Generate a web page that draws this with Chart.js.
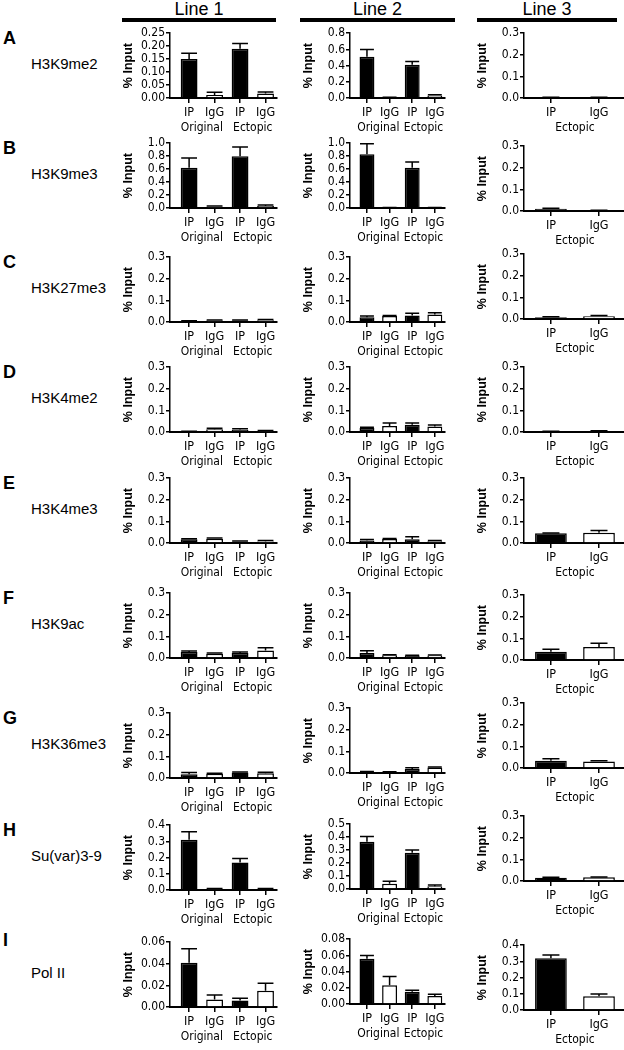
<!DOCTYPE html>
<html>
<head>
<meta charset="utf-8">
<script src="https://cdn.jsdelivr.net/npm/chart.js@4.4.1/dist/chart.umd.min.js"></script>
<style>
  body { margin: 0; background: #fff; width: 624px; height: 1050px; position: relative; overflow: hidden;
         font-family: "Liberation Sans", Arial, sans-serif; color: #000; }
  canvas { position: absolute; }
  .hdr { position: absolute; font-size: 18px; line-height: 18px; text-align: center; }
  .hdrbar { position: absolute; height: 4px; background: #000; }
  .letter { position: absolute; left: 3px; font-size: 18px; font-weight: bold; line-height: 18px; transform: translateY(-50%); }
  .rname { position: absolute; left: 31px; font-size: 15px; line-height: 15px; transform: translateY(-50%); white-space: nowrap; }
</style>
</head>
<body>
<script>
/* ---- data ---- */
const lineNames = ['Line 1', 'Line 2', 'Line 3'];
const rowLetters = ['A', 'B', 'C', 'D', 'E', 'F', 'G', 'H', 'I'];
const rowNames = ['H3K9me2', 'H3K9me3', 'H3K27me3', 'H3K4me2', 'H3K4me3', 'H3K9ac', 'H3K36me3', 'Su(var)3-9', 'Pol II'];
const pairLabels = ['IP', 'IgG', 'IP', 'IgG'];
const singleLabels = ['IP', 'IgG'];
const pairGroups = ['Original', 'Ectopic'];
const singleGroups = ['Ectopic'];

// % Input, [Line 1, Line 2, Line 3]
const h3k9me2 = [[0.150, 0.012, 0.190, 0.017], [0.51, 0.005, 0.41, 0.030], [0.003, 0.003]];
const h3k9me2Err = [[0.023, 0.010, 0.020, 0.006], [0.09, 0.004, 0.04, 0.010], [0.001, 0.001]];
const h3k9me3 = [[0.62, 0.020, 0.80, 0.030], [0.83, 0.005, 0.62, 0.005], [0.010, 0.003]];
const h3k9me3Err = [[0.15, 0.010, 0.14, 0.015], [0.16, 0.003, 0.09, 0.003], [0.003, 0.001]];
const h3k27me3 = [[0.005, 0.007, 0.007, 0.008], [0.022, 0.028, 0.030, 0.035], [0.008, 0.013]];
const h3k27me3Err = [[0.001, 0.002, 0.002, 0.003], [0.006, 0.002, 0.010, 0.008], [0.002, 0.003]];
const h3k4me2 = [[0.002, 0.013, 0.010, 0.005], [0.018, 0.028, 0.033, 0.025], [0.002, 0.004]];
const h3k4me2Err = [[0.001, 0.004, 0.005, 0.002], [0.004, 0.014, 0.009, 0.007], [0.001, 0.002]];
const h3k4me3 = [[0.017, 0.020, 0.006, 0.007], [0.012, 0.018, 0.017, 0.008], [0.045, 0.047]];
const h3k4me3Err = [[0.003, 0.003, 0.003, 0.004], [0.004, 0.003, 0.012, 0.003], [0.001, 0.011]];
const h3k9ac = [[0.028, 0.020, 0.023, 0.035], [0.023, 0.013, 0.012, 0.012], [0.038, 0.060]];
const h3k9acErr = [[0.004, 0.003, 0.005, 0.012], [0.010, 0.002, 0.001, 0.002], [0.012, 0.017]];
const h3k36me3 = [[0.017, 0.020, 0.025, 0.022], [0.005, 0.004, 0.018, 0.025], [0.033, 0.030]];
const h3k36me3Err = [[0.008, 0.002, 0.003, 0.005], [0.002, 0.002, 0.006, 0.003], [0.010, 0.004]];
const suvar39 = [[0.31, 0.007, 0.17, 0.006], [0.365, 0.040, 0.28, 0.022], [0.015, 0.017]];
const suvar39Err = [[0.05, 0.003, 0.025, 0.004], [0.04, 0.020, 0.02, 0.008], [0.002, 0.002]];
const polII = [[0.041, 0.007, 0.006, 0.015], [0.056, 0.023, 0.015, 0.010], [0.32, 0.085]];
const polIIErr = [[0.013, 0.004, 0.002, 0.007], [0.004, 0.011, 0.002, 0.002], [0.02, 0.013]];

const rowMeans = [h3k9me2, h3k9me3, h3k27me3, h3k4me2, h3k4me3, h3k9ac, h3k36me3, suvar39, polII];
const rowErrs = [h3k9me2Err, h3k9me3Err, h3k27me3Err, h3k4me2Err, h3k4me3Err, h3k9acErr, h3k36me3Err, suvar39Err, polIIErr];

// y axis range per panel
const yMax = [[0.25, 0.8, 0.3], [1.0, 1.0, 0.3], [0.3, 0.3, 0.3], [0.3, 0.3, 0.3], [0.3, 0.3, 0.3],
              [0.3, 0.3, 0.3], [0.3, 0.3, 0.3], [0.4, 0.5, 0.3], [0.06, 0.08, 0.4]];
const yStep = [[0.05, 0.2, 0.1], [0.2, 0.2, 0.1], [0.1, 0.1, 0.1], [0.1, 0.1, 0.1], [0.1, 0.1, 0.1],
               [0.1, 0.1, 0.1], [0.1, 0.1, 0.1], [0.1, 0.1, 0.1], [0.02, 0.02, 0.1]];

/* ---- layout ---- */
const colAxisX = [170, 350, 524];
const colRight = [277, 445, 624];
const xMin = [-0.75, -0.75, -0.56];
const xMax = [3.45, 3.45, 1.52];
const plotTops = [[33, 33, 33], [143, 143, 146], [257, 257, 254], [367, 367, 367], [478, 478, 478],
                  [593, 593, 595], [713, 708, 703], [825, 824, 816], [942, 939, 945]];
const hdrBars = [[122, 276], [300, 455], [477, 617]];
const narrow = '"Liberation Sans Narrow", "DejaVu Sans Condensed", "Liberation Sans", Arial, sans-serif';

const errorBars = {
    id: 'errorBars',
    afterDatasetsDraw(chart) {
        const ctx = chart.ctx;
        const ys = chart.scales.y;
        const ds = chart.data.datasets[0];
        chart.getDatasetMeta(0).data.forEach((bar, i) => {
            const yTop = ys.getPixelForValue(ds.data[i].y + ds.errors[i]);
            const half = Math.min(8.5, bar.width / 2 - 0.5);
            ctx.save();
            ctx.strokeStyle = '#000';
            ctx.lineWidth = 1.5;
            ctx.beginPath();
            ctx.moveTo(bar.x, bar.y);
            ctx.lineTo(bar.x, yTop);
            ctx.moveTo(bar.x - half, yTop);
            ctx.lineTo(bar.x + half, yTop);
            ctx.stroke();
            ctx.restore();
        });
    }
};

const groupText = {
    id: 'groupText',
    afterDraw(chart, args, opts) {
        const xs = chart.scales.x;
        const ctx = chart.ctx;
        ctx.save();
        ctx.font = '12px ' + narrow;
        ctx.fillStyle = '#000';
        ctx.textAlign = 'center';
        ctx.textBaseline = 'middle';
        opts.groups.forEach((g, k) => {
            const x = (xs.getPixelForValue(2 * k) + xs.getPixelForValue(2 * k + 1)) / 2;
            ctx.fillText(g, x, chart.chartArea.bottom + 30);
        });
        ctx.restore();
    }
};

function addDiv(cls, text, css) {
    const d = document.createElement('div');
    d.className = cls;
    if (text) d.textContent = text;
    Object.assign(d.style, css);
    document.body.appendChild(d);
}

// column headers
lineNames.forEach((name, c) => {
    const [x0, x1] = hdrBars[c];
    addDiv('hdr', name, { left: x0 + 'px', width: (x1 - x0) + 'px', top: '0px' });
    addDiv('hdrbar', '', { left: x0 + 'px', width: (x1 - x0) + 'px', top: '18px' });
});

function makePanel(r, c) {
    const four = c < 2;
    const labels = four ? pairLabels : singleLabels;
    const top = plotTops[r][c];
    const h = 65;
    const W = 58, H = 44, padTop = 8, padRight = c === 2 ? 0 : 6;
    const step = yStep[r][c];
    const dec = step < 0.1 ? 2 : 1;
    const titleGap = 41;

    const cv = document.createElement('canvas');
    cv.width = W + colRight[c] - colAxisX[c] + padRight;
    cv.height = padTop + h + H;
    cv.style.left = (colAxisX[c] - W) + 'px';
    cv.style.top = (top - padTop) + 'px';
    document.body.appendChild(cv);

    new Chart(cv, {
        type: 'bar',
        data: {
            labels,
            datasets: [{
                data: rowMeans[r][c].map((v, i) => ({ x: i, y: v })),
                errors: rowErrs[r][c],
                backgroundColor: labels.map(l => l === 'IP' ? '#000' : '#fff'),
                borderColor: '#000',
                borderWidth: 1.5,
                barPercentage: four ? 0.66 : 0.66,
                categoryPercentage: 1
            }]
        },
        options: {
            responsive: false, animation: false, events: [],
            layout: { padding: { top: padTop, right: padRight, left: 0, bottom: 0 } },
            plugins: {
                legend: { display: false },
                tooltip: { enabled: false },
                groupText: { groups: four ? pairGroups : singleGroups }
            },
            scales: {
                x: {
                    type: 'linear', min: xMin[c], max: xMax[c], offset: false,
                    afterBuildTicks: s => { s.ticks = labels.map((l, i) => ({ value: i })); },
                    grid: { display: true, drawOnChartArea: false, offset: false, color: '#000', lineWidth: 1.5, tickLength: 5 },
                    border: { color: '#000', width: 2 },
                    ticks: { color: '#000', font: { family: narrow, size: 12.5 }, padding: 2, maxRotation: 0, autoSkip: false,
                             callback: v => labels[v] },
                    afterFit: s => { s.height = H; }
                },
                y: {
                    min: 0, max: yMax[r][c],
                    ticks: { stepSize: step, autoSkip: false, callback: v => v.toFixed(dec), color: '#000',
                             font: { family: narrow, size: 12 }, padding: 1 },
                    grid: { drawOnChartArea: false, color: '#000', lineWidth: 1.5, tickLength: 4 },
                    border: { color: '#000', width: 1.5 },
                    title: { display: true, text: '% Input', color: '#000',
                             font: { family: '"Liberation Sans", Arial, sans-serif', weight: 'bold', size: 12.5 },
                             padding: { top: W - titleGap - 7.5, bottom: 0 } },
                    afterFit: s => { s.width = W; }
                }
            }
        },
        plugins: [errorBars, groupText]
    });
}

rowLetters.forEach((letter, r) => {
    const top = plotTops[r][0];
    addDiv('letter', letter, { top: (r === 8 ? top - 2 : top + 5) + 'px' });
    addDiv('rname', rowNames[r], { top: (top + 30) + 'px' });
    for (let c = 0; c < 3; c++) makePanel(r, c);
});
</script>
</body>
</html>
